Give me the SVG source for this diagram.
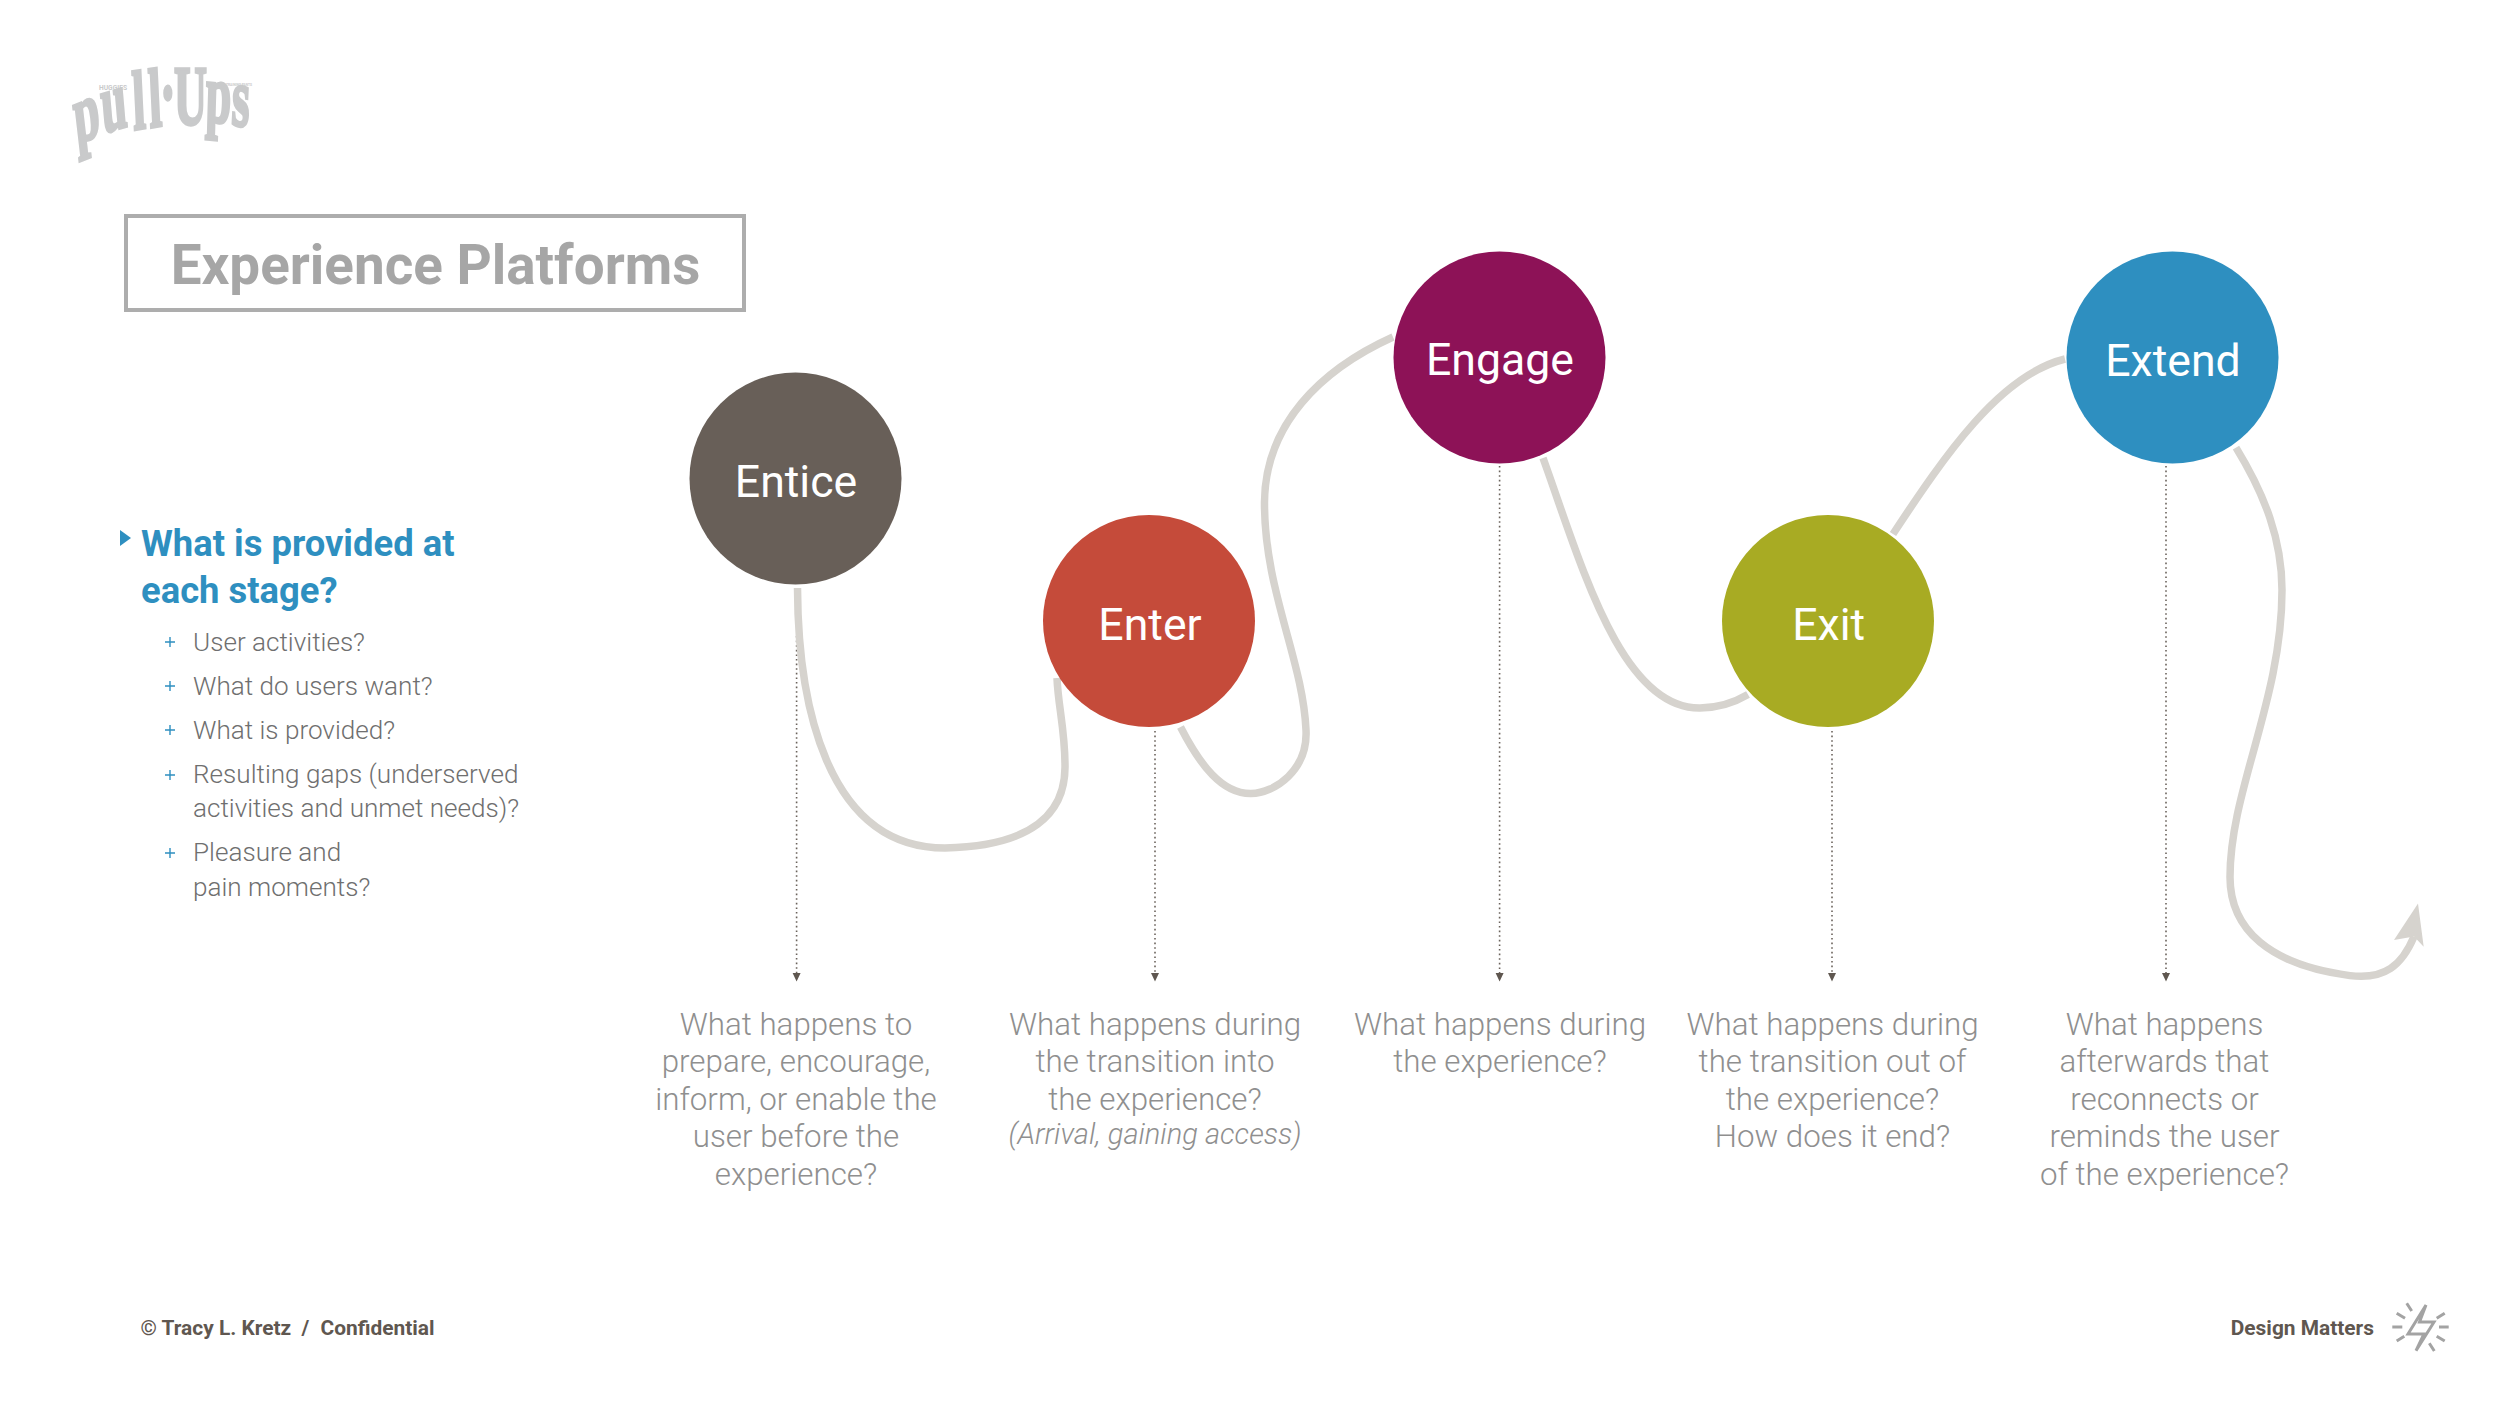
<svg xmlns="http://www.w3.org/2000/svg" width="2500" height="1407" viewBox="0 0 2500 1407">
<defs>
<style>
text{font-family:Roboto,"Liberation Sans",sans-serif}
.flow{fill:none;stroke:#d6d3ce;stroke-width:7.5}
.drop{fill:none;stroke:#6b635c;stroke-width:1.6;stroke-dasharray:1.6 3}
.tip{fill:#5f5750}
.stage{font-size:44.6px;font-weight:400;fill:#fff;text-anchor:middle}
.q{font-size:31.3px;font-weight:300;fill:#8f8f8f;text-anchor:middle}
.qi{font-size:29.1px;font-weight:300;font-style:italic;fill:#8f8f8f;text-anchor:middle}
.h{font-size:36.4px;font-weight:700;fill:#2e8fc0}
.li{font-size:26.1px;font-weight:300;fill:#6f6f6f}
.plus{stroke:#2e8fc0;stroke-width:1.4;fill:none}
.foot{font-size:20.9px;font-weight:700;fill:#5f5750}
.lg{font-family:"Liberation Serif",serif;font-weight:700;font-size:76px;stroke:#c9cacb;stroke-width:3}
</style>
</defs>
<rect width="2500" height="1407" fill="#fff"/>
<g id="logo" fill="#c9cacb">
<text class="lg" transform="scale(.6 1.1)" x="128 172 223 250 267 290 342 385" y="131 121 118 116 110 114 110 113" rotate="-12 -9 -5 -5 0 0 3 5">pull·Ups</text>
<text x="99" y="90" font-size="7" font-weight="700" textLength="28" lengthAdjust="spacingAndGlyphs">HUGGIES</text>
<text x="226" y="86" font-size="3.5" font-weight="700" textLength="26" lengthAdjust="spacingAndGlyphs">TRAINING PANTS</text>
</g>
<g id="title">
<rect x="126" y="216" width="618" height="94" fill="#fff" stroke="#adadad" stroke-width="4"/>
<text x="435.5" y="284" font-size="54.8" font-weight="700" fill="#a6a6a6" text-anchor="middle">Experience Platforms</text>
</g>
<g id="questions">
<polygon points="120,530 131,538 120,546" fill="#2e8fc0"/>
<text class="h" x="141" y="556">What is provided at</text>
<text class="h" x="141" y="603">each stage?</text>
<path class="plus" d="M165 642h10M170 637v10M165 686h10M170 681v10M165 730h10M170 725v10M165 775h10M170 770v10M165 853h10M170 848v10"/>
<text class="li" x="193" y="651">User activities?</text>
<text class="li" x="193" y="695">What do users want?</text>
<text class="li" x="193" y="739">What is provided?</text>
<text class="li" x="193" y="783">Resulting gaps (underserved</text>
<text class="li" x="193" y="817">activities and unmet needs)?</text>
<text class="li" x="193" y="861">Pleasure and</text>
<text class="li" x="193" y="896">pain moments?</text>
</g>
<g id="connectors">
<path class="drop" d="M796.6 636V973"/>
<path class="drop" d="M1155 731V973"/>
<path class="drop" d="M1499.6 466V973"/>
<path class="drop" d="M1832 731V973"/>
<path class="drop" d="M2166 466V973"/>
<path class="tip" d="M792.6 973h8l-4 8.5zM1151 973h8l-4 8.5zM1495.6 973h8l-4 8.5zM1828 973h8l-4 8.5zM2162 973h8l-4 8.5z"/>
<path class="flow" d="M797.5 588C798 700 825 848 945 848C1030 846 1066 815 1065 765C1065 730 1058 705 1057 678"/>
<path class="flow" d="M1180.5 727C1200 765 1222 794 1251 793.6C1275 793 1308 770 1306 730C1303 660 1264 590 1264.5 502C1265 425 1320 370 1393 337"/>
<path class="flow" d="M1543 458C1580 560 1620 709 1700 708C1715 708 1732 704 1748 694.6"/>
<path class="flow" d="M1893 534C1945 455 2000 375 2065 359"/>
<path class="flow" d="M2236 447.6C2265 495 2282 540 2282 590C2282 700 2230 790 2230 877C2230 930 2270 965 2350 975.6C2385 980 2402 965 2414 936.6"/>
<polygon points="2418,903.5 2423.7,946.7 2414,936.6 2394,940" fill="#d6d3ce"/>
</g>
<g id="entice"><circle cx="795.5" cy="478.5" r="106" fill="#685f58"/><text class="stage" x="796" y="496.5">Entice</text></g>
<g id="enter"><circle cx="1149" cy="621" r="106" fill="#c54b3a"/><text class="stage" x="1150" y="639.5">Enter</text></g>
<g id="engage"><circle cx="1499.5" cy="357.5" r="106" fill="#8d1257"/><text class="stage" x="1500" y="375">Engage</text></g>
<g id="exit"><circle cx="1828" cy="621" r="106" fill="#a8ab23"/><text class="stage" x="1828.7" y="639.5">Exit</text></g>
<g id="extend"><circle cx="2172.5" cy="357.5" r="106" fill="#2e8fc0"/><text class="stage" x="2173" y="375.5">Extend</text></g>
<g id="q-entice">
<text class="q" x="796" y="1035">What happens to</text>
<text class="q" x="796" y="1072">prepare, encourage,</text>
<text class="q" x="796" y="1109.5">inform, or enable the</text>
<text class="q" x="796" y="1147">user before the</text>
<text class="q" x="796" y="1184.5">experience?</text>
</g>
<g id="q-enter">
<text class="q" x="1155" y="1035">What happens during</text>
<text class="q" x="1155" y="1072">the transition into</text>
<text class="q" x="1155" y="1109.5">the experience?</text>
<text class="qi" x="1155" y="1144">(Arrival, gaining access)</text>
</g>
<g id="q-engage">
<text class="q" x="1500" y="1035">What happens during</text>
<text class="q" x="1500" y="1072">the experience?</text>
</g>
<g id="q-exit">
<text class="q" x="1832.5" y="1035">What happens during</text>
<text class="q" x="1832.5" y="1072">the transition out of</text>
<text class="q" x="1832.5" y="1109.5">the experience?</text>
<text class="q" x="1832.5" y="1147">How does it end?</text>
</g>
<g id="q-extend">
<text class="q" x="2164.5" y="1035">What happens</text>
<text class="q" x="2164.5" y="1072">afterwards that</text>
<text class="q" x="2164.5" y="1109.5">reconnects or</text>
<text class="q" x="2164.5" y="1147">reminds the user</text>
<text class="q" x="2164.5" y="1184.5">of the experience?</text>
</g>
<g id="footer">
<text class="foot" x="140.5" y="1335">© Tracy L. Kretz</text>
<text class="foot" x="301.5" y="1335">/</text>
<text class="foot" x="320.5" y="1335">Confidential</text>
<text class="foot" x="2374" y="1335" text-anchor="end">Design Matters</text>
<g id="bolt" fill="none" stroke="#a3a3a3" stroke-width="3">
<path d="M2426 1305L2408 1334H2424L2416 1350.7L2434 1322H2419.5Z"/>
<path d="M2406.7 1303.3L2411.7 1311M2396.7 1313.3L2405 1318.3M2392.3 1327H2402.3M2396.7 1341L2404.3 1336.3M2429.3 1343.3L2434.3 1351M2436.7 1336.3L2444.7 1341M2439 1327H2448.7M2436.7 1318.3L2444.7 1313.3"/>
</g>
</g>
</svg>
